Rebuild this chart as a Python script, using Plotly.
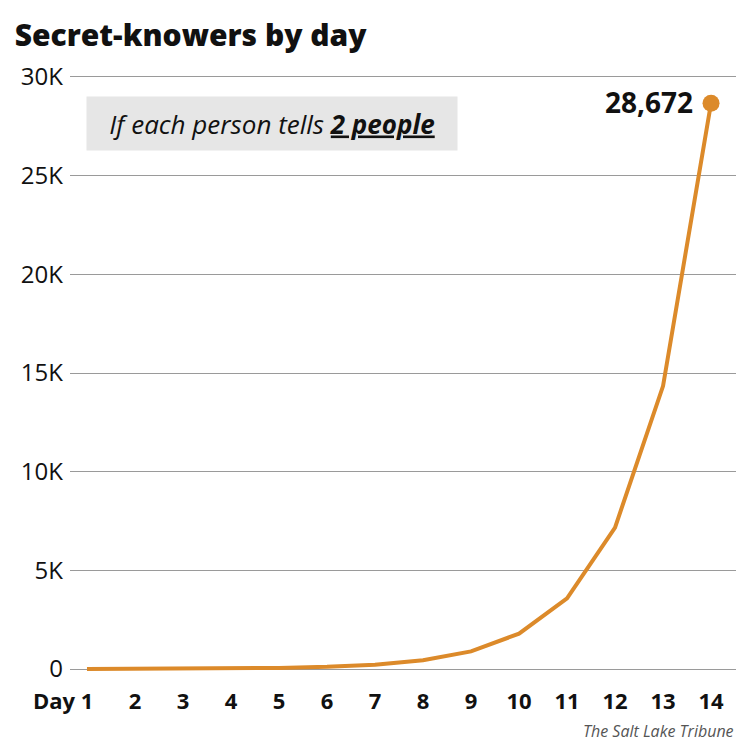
import plotly.graph_objects as go

days = list(range(1, 15))
day_labels = [str(d) for d in days]
knowers = [3, 7, 14, 28, 56, 112, 224, 448, 896, 1792, 3584, 7168, 14336, 28672]
y_ticks = [0, 5000, 10000, 15000, 20000, 25000, 30000]
y_tick_labels = ["0", "5K", "10K", "15K", "20K", "25K", "30K"]

orange = "#dc8a2a"
font_main = "Open Sans"

fig = go.Figure()
fig.add_trace(go.Scatter(
    x=days, y=knowers, mode="lines",
    line=dict(color=orange, width=4), hoverinfo="skip", showlegend=False,
))
fig.add_trace(go.Scatter(
    x=[days[-1]], y=[knowers[-1]], mode="markers",
    marker=dict(color=orange, size=17),
    hoverinfo="skip", showlegend=False,
))
fig.add_annotation(
    x=days[-1], y=knowers[-1], xref="x", yref="y",
    xanchor="right", yanchor="middle", xshift=-16, yshift=1,
    text=f"<b>{knowers[-1]:,}</b>", showarrow=False,
    font=dict(family=font_main, size=28, color="#111111"),
)

# plot area: 30K at y=77, 0 at y=669 (page px); range padded by 200 for visible edge gridlines
fig.update_layout(
    width=742, height=748,
    margin=dict(l=62, r=14, t=65, b=83),
    paper_bgcolor="white", plot_bgcolor="white",
    title=dict(text="Secret-knowers by day", x=0.009, xanchor="left",
               y=1 - 27 / 748, yanchor="middle",
               font=dict(family=font_main, size=30, color="#111111", weight=800)),
    xaxis=dict(range=[0.646, 14.52], tickmode="array", tickvals=days, ticktext=day_labels,
               showgrid=False, zeroline=False, showline=False, ticks="",
               tickfont=dict(family=font_main, size=22, color="#111111", weight="bold"),
               ticklabelstandoff=13, fixedrange=True),
    yaxis=dict(range=[-200, 30200], tickmode="array", tickvals=y_ticks, ticktext=y_tick_labels,
               showgrid=True, gridcolor="#9a9a9a", gridwidth=1, zeroline=False,
               showline=False, ticks="",
               tickfont=dict(family=font_main, size=24, color="#111111"),
               ticklabelstandoff=6, fixedrange=True),
)
fig.update_yaxes(layer="below traces")

fig.add_annotation(
    xref="x", yref="paper", x=1, y=-27 / 600,
    xanchor="right", yanchor="middle", xshift=-9,
    text="<b>Day</b>", showarrow=False,
    font=dict(family=font_main, size=22, color="#111111"),
)
fig.add_annotation(
    xref="paper", yref="paper", x=(86 - 70) / 666, y=(673 - 123.5) / 600,
    xanchor="left", yanchor="middle",
    text="<i>If each person tells <b><u>2 people</u></b></i>",
    showarrow=False, bgcolor="#e6e6e6", width=362, height=45, align="center",
    borderpad=4,
    font=dict(family=font_main, size=26, color="#111111"),
)
fig.add_annotation(
    xref="paper", yref="paper", x=1.0, y=-(731 - 673) / 600,
    xanchor="right", yanchor="middle",
    text="<i>The Salt Lake Tribune</i>", showarrow=False,
    font=dict(family=font_main, size=16, color="#555555"),
)

fig.write_html("out.html")
